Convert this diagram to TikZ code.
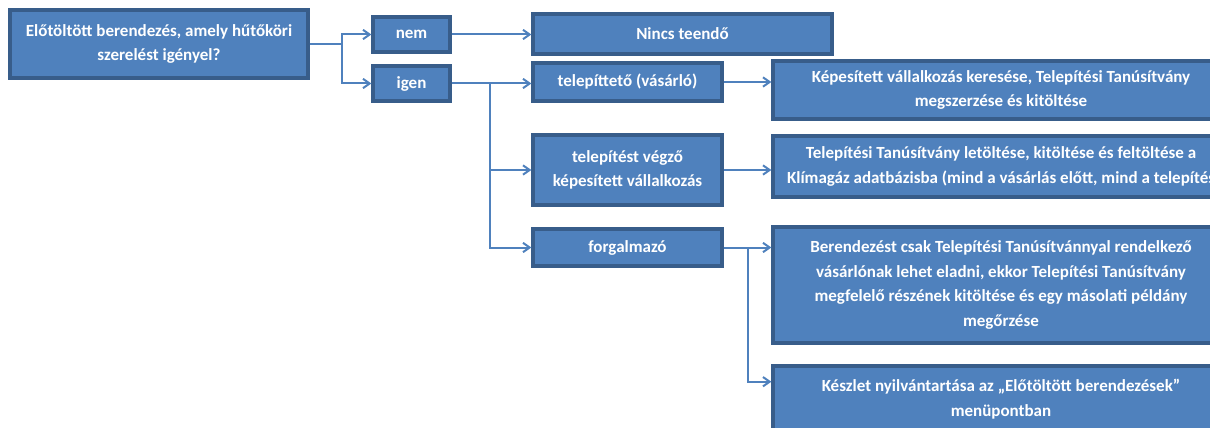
\documentclass[tikz,border=0pt]{standalone}
\usepackage{fontspec}
\setmainfont{Carlito}
\usetikzlibrary{arrows.meta,calc}
\definecolor{boxfill}{HTML}{4F81BD}
\definecolor{boxline}{HTML}{385D8A}
\begin{document}
\begin{tikzpicture}[x=0.75pt, y=-0.75pt,
  >={Straight Barb[length=5pt,width=7pt]},
  box/.style={draw=boxline, line width=2.4pt, fill=boxfill, text=white,
    font=\fontsize{12.75}{18.5}\selectfont\bfseries, align=center, inner sep=0pt},
  link/.style={draw=boxfill, line width=1.5pt}]

\useasboundingbox (0,0) rectangle (1210,428);
\clip (0,0) rectangle (1210,428);

%==== kérdés ====
\node[box, minimum width=223.5pt, minimum height=51pt] (kerdes) at (159,44)
  {Előtöltött berendezés, amely hűtőköri\\szerelést igényel?};
\node[box, minimum width=57.75pt, minimum height=26.25pt] (nem) at (411.5,34.5) {nem};
\node[box, minimum width=57.75pt, minimum height=26.25pt] (igen) at (411.5,83.5) {igen};

%==== szereplők ====
\node[box, minimum width=224.25pt, minimum height=30pt] (nincs) at (682.5,34) {Nincs teendő};
\node[box, minimum width=141.75pt, minimum height=28.5pt] (vasarlo) at (627.5,82)
  {telepíttető (vásárló)};
\node[box, minimum width=141.75pt, minimum height=52.5pt] (vallalkozas) at (627.5,170)
  {telepítést végző\\képesített vállalkozás};
\node[box, minimum width=141.75pt, minimum height=27.75pt] (forgalmazo) at (627.5,247.5)
  {forgalmazó};

%==== teendők ====
\node[box, minimum width=342pt, minimum height=43.5pt] (kereses) at (1001,90)
  {Képesített vállalkozás keresése, Telepítési Tanúsítvány\\megszerzése és kitöltése};
\node[box, minimum width=342pt, minimum height=45.75pt] (feltoltes) at (1001,166.5)
  {Telepítési Tanúsítvány letöltése, kitöltése és feltöltése a\\Klímagáz adatbázisba (mind a vásárlás előtt, mind a telepítés};
\node[box, minimum width=342pt, minimum height=87pt] (eladas) at (1001,285)
  {Berendezést csak Telepítési Tanúsítvánnyal rendelkező\\vásárlónak lehet eladni, ekkor Telepítési Tanúsítvány\\megfelelő részének kitöltése és egy másolati példány\\megőrzése};
\node[box, minimum width=342pt, minimum height=49.5pt] (keszlet) at (1001,399)
  {Készlet nyilvántartása az „Előtöltött berendezések”\\menüpontban};

%==== összekötők ====
\coordinate (ag1) at (342,44);
\coordinate (ag2) at (490,83.5);
\coordinate (ag3) at (748,247.5);
\draw[link] (kerdes.east) -- (ag1);
\draw[link,->] (ag1) |- (nem.west);
\draw[link,->] (ag1) |- (igen.west);
\draw[link,->] (nem.east) -- (nem.east -| nincs.west);
\draw[link,->] (igen.east) -- (igen.east -| vasarlo.west);
\draw[link,->] (ag2) |- (vallalkozas.west);
\draw[link,->] (ag2) |- (forgalmazo.west);
\draw[link,->] (vasarlo.east) -- (vasarlo.east -| kereses.west);
\draw[link,->] (vallalkozas.east) -- (vallalkozas.east -| feltoltes.west);
\draw[link,->] (forgalmazo.east) -- (forgalmazo.east -| eladas.west);
\draw[link,->] (ag3) |- ($(keszlet.north west)!0.25!(keszlet.south west)$);

\end{tikzpicture}
\end{document}
